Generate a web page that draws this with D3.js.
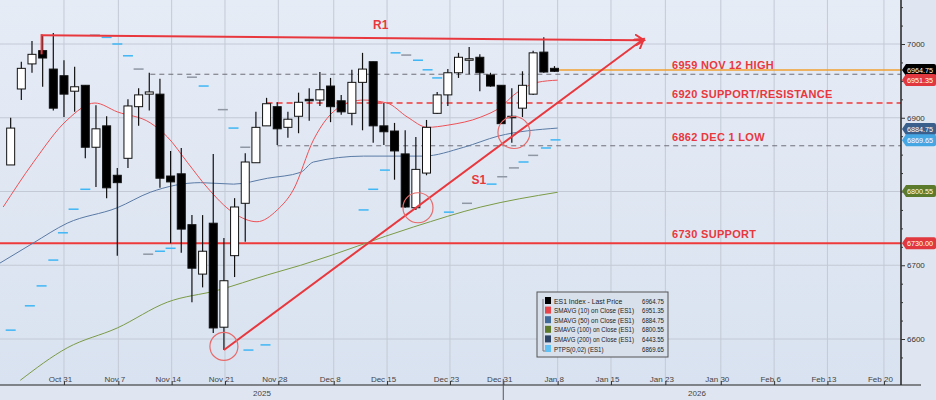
<!DOCTYPE html>
<html><head><meta charset="utf-8">
<script src="https://cdn.jsdelivr.net/npm/d3@7"></script>
<style>body{margin:0;background:#fff;font-family:"Liberation Sans",Arial,sans-serif}</style>
</head><body>
<svg id="chart" width="936" height="400"></svg>
<script>
// candles: [open, high, low, close], one per trading day (index 0..51)
const candles = [
  [6836,6900,6836,6886],[6939,6976,6924,6967],[6973,7004,6961,6986],[6991,7012,6942,6981],
  [6966,7015,6910,6913],[6957,6978,6901,6932],[6936,6969,6908,6942],[6944,6944,6845,6860],
  [6860,6917,6806,6885],[6889,6902,6791,6805],[6822,6832,6713,6812],[6845,6925,6832,6916],
  [6915,6940,6889,6931],[6932,6961,6910,6935],[6932,6953,6805,6818],[6821,6855,6730,6813],
  [6824,6859,6717,6749],[6755,6768,6650,6696],[6688,6768,6670,6719],[6757,6851,6608,6615],
  [6616,6737,6585,6679],[6713,6791,6684,6779],[6784,6852,6732,6840],[6839,6908,6839,6887],
  [6889,6927,6889,6919],[6915,6921,6863,6885],[6887,6908,6873,6898],[6902,6934,6879,6921],
  [6925,6940,6896,6923],[6924,6962,6916,6938],[6943,6954,6894,6915],[6923,6931,6904,6908],
  [6906,6965,6890,6948],[6948,6988,6883,6966],[6976,6976,6866,6889],[6889,6920,6863,6881],
  [6882,6893,6816,6855],[6851,6883,6778,6779],[6778,6874,6775,6830],[6825,6897,6822,6887],
  [6906,6935,6905,6931],[6931,6966,6916,6961],[6961,6988,6954,6982],[6978,6996,6959,6980],
  [6982,6986,6936,6961],[6958,6961,6942,6943],[6944,6944,6892,6892],[6902,6940,6866,6901],
  [6913,6963,6901,6944],[6932,6991,6931,6988],[6989,7009,6961,6962],[6967,6970,6962,6963]
];
// [index, value]
const sma10 = [[-0.7,6779],[2.1,6839],[5.3,6897],[7.9,6920],[10,6908],[13.1,6893],[14.7,6874],[16.6,6839],
  [18.4,6806],[20.9,6771],[23.1,6759],[25,6775],[26.5,6802],[28.4,6870],[30.9,6915],[33.1,6924],[35.3,6920],
  [37.2,6901],[39.1,6887],[41,6890],[44.1,6901],[46,6915],[47.2,6931],[49.4,6948],[51.3,6951]];
const sma50 = [[-1,6703],[2.1,6730],[5.3,6757],[10,6778],[13.1,6799],[17.8,6812],[20.9,6810],[24.1,6818],
  [27.2,6826],[28.4,6840],[33.1,6848],[38.7,6848],[42.5,6860],[45.7,6875],[51.3,6886]];
const sma100 = [[0.9,6544],[5.3,6588],[10,6615],[14.7,6650],[19.4,6666],[24.1,6687],[27.2,6700],
  [37.8,6752],[44.1,6779],[51.3,6799]];
// PTPS dashes [index, value, kind] kind 0 = blue, 1 = grey
const ptps = [[0,6612,0],[1.8,6645,0],[2.9,6672,0],[4,6707,0],[4.9,6744,0],[5.9,6776,0],[7,6803,0],
  [7.9,7012,1],[9,7009,0],[10,7000,0],[11,6984,0],[12,6966,1],[12.9,6715,1],[14,6719,0],[15,6723,0],
  [17,6955,1],[18.1,6943,0],[19.9,6911,1],[20.9,6886,0],[22,6860,1],[22.3,6585,0],[23.9,6592,0],
  [33.1,6775,0],[34,6803,0],[35.1,6829,0],[36.1,6988,0],[37.1,6985,1],[38.2,6978,0],[39.1,6965,0],
  [40,6954,0],[41.1,6772,0],[42.8,6784,1],[45.1,6810,0],[46.1,6820,1],[47.2,6832,1],[48.1,6840,0],
  [49,6849,1],[50.2,6859,0],[51.1,6870,0]];
const tickIdx = [5,10.1,15.1,20.1,25.1,30.3,35.3,41.2,46.2,51.3,56.3,61.4,66.6,71.6,76.6,81.9];
const tickLabels = ["Oct 31","Nov 7","Nov 14","Nov 21","Nov 28","Dec 8","Dec 15","Dec 23","Dec 31","Jan 8","Jan 15","Jan 23","Jan 30","Feb 6","Feb 13","Feb 20"];
const yTicks = [6600,6700,6800,6900,7000];
const yLabels = [6600,6700,6900,7000]; // 6800 hidden behind the tag
const levels = [
  {v:6959, label:"6959 NOV 12 HIGH", from:13.1},
  {v:6920, label:"6920 SUPPORT/RESISTANCE", from:24},
  {v:6862, label:"6862 DEC 1 LOW", from:25},
  {v:6730, label:"6730 SUPPORT", from:-1}
];
const tags = [
  {v:6964.75, text:"6964.75", color:"#000"},
  {v:6951.35, text:"6951.35", color:"#e0383e"},
  {v:6884.75, text:"6884.75", color:"#3a5f8c"},
  {v:6869.65, text:"6869.65", color:"#45a6e4"},
  {v:6800.55, text:"6800.55", color:"#5b7a2c"},
  {v:6730.00, text:"6730.00", color:"#e0383e"}
];
const legendRows = [
  ["ES1 Index - Last Price","6964.75","#000"],
  ["SMAVG (10)  on Close (ES1)","6951.35","#e8454a"],
  ["SMAVG (50)  on Close (ES1)","6884.75","#3f6a99"],
  ["SMAVG (100)  on Close (ES1)","6800.55","#5d7a2a"],
  ["SMAVG (200)  on Close (ES1)","6443.55","#2d4466"],
  ["PTPS(0,02) (ES1)","6869.65","#5fc0f5"]
];

const svg = d3.select("#chart");
const W = 901, H = 385;
const x = d3.scaleLinear().domain([-1, 83.5]).range([0, W]);
const y = d3.scaleLinear().domain([6600, 7000]).range([339, 44]);

const defs = svg.append("defs");
const grad = defs.append("linearGradient").attr("id","bg").attr("x1",0).attr("y1",0).attr("x2",0).attr("y2",1);
grad.append("stop").attr("offset","0%").attr("stop-color","#e6ecf6");
grad.append("stop").attr("offset","100%").attr("stop-color","#d9e2f0");
defs.append("clipPath").attr("id","clip").append("rect").attr("width",W).attr("height",H);
defs.append("marker").attr("id","arrow").attr("viewBox","0 0 10 10").attr("refX",6).attr("refY",5)
  .attr("markerWidth",6).attr("markerHeight",6).attr("orient","auto")
  .append("path").attr("d","M0,0 L8,5 L0,10").attr("fill","none").attr("stroke","#e8383e").attr("stroke-width",1.6);

svg.append("rect").attr("width",936).attr("height",400).attr("fill","#dfe6f1");
svg.append("rect").attr("width",W).attr("height",H).attr("fill","url(#bg)");

const g = svg.append("g").attr("clip-path","url(#clip)");
// grid
g.selectAll(".vg").data(tickIdx).enter().append("line")
  .attr("x1",d=>x(d)).attr("x2",d=>x(d)).attr("y1",0).attr("y2",H)
  .attr("stroke","#c3cad6").attr("stroke-width",1);
g.selectAll(".hg").data(yTicks).enter().append("line")
  .attr("x1",0).attr("x2",W).attr("y1",d=>y(d)).attr("y2",d=>y(d))
  .attr("stroke","#c3cad6").attr("stroke-width",1);

// levels
levels.forEach((l,i) => {
  const solid = i === 3, red = i === 1 || i === 3;
  g.append("line").attr("x1",x(l.from)).attr("x2",W).attr("y1",y(l.v)).attr("y2",y(l.v))
    .attr("stroke", red ? "#ee3a3a" : "#6d6d78")
    .attr("stroke-width", solid ? 2 : (red ? 1.4 : 1))
    .attr("stroke-dasharray", solid ? null : (red ? "6,4" : "5,4"));
  svg.append("text").attr("x",672).attr("y",y(l.v)-5).text(l.label)
    .attr("fill","#e8383e").attr("font-size",11).attr("font-weight","bold").attr("letter-spacing",0.3);
});
// last price line
g.append("line").attr("x1",x(51.3)).attr("x2",W).attr("y1",y(6964.75)).attr("y2",y(6964.75))
  .attr("stroke","#f0a030").attr("stroke-width",1.3);

// moving averages
const line = d3.line().x(d=>x(d[0])).y(d=>y(d[1])).curve(d3.curveMonotoneX);
[[sma100,"#7b9b45"],[sma50,"#5a7aa5"],[sma10,"#ee5055"]].forEach(([d,c]) =>
  g.append("path").datum(d).attr("d",line).attr("fill","none").attr("stroke",c).attr("stroke-width",1));

// PTPS
g.selectAll(".pt").data(ptps).enter().append("line")
  .attr("x1",d=>x(d[0])-5).attr("x2",d=>x(d[0])+5).attr("y1",d=>y(d[1])).attr("y2",d=>y(d[1]))
  .attr("stroke",d=>d[2] ? "#8f96a4" : "#3fb6f5").attr("stroke-width",1.5);

// candles
const bw = 8;
const cg = g.selectAll(".c").data(candles).enter().append("g");
cg.append("line").attr("x1",(d,i)=>x(i)).attr("x2",(d,i)=>x(i))
  .attr("y1",d=>y(d[1])).attr("y2",d=>y(d[2])).attr("stroke","#111").attr("stroke-width",1.2);
cg.append("rect").attr("x",(d,i)=>x(i)-bw/2).attr("width",bw)
  .attr("y",d=>y(Math.max(d[0],d[3])))
  .attr("height",d=>Math.max(1.5, Math.abs(y(d[0])-y(d[3]))))
  .attr("fill",d=>d[3]<d[0] ? "#000" : "#fff").attr("stroke","#111").attr("stroke-width",1);

// annotations
const red = "#e8383e";
g.append("line").attr("x1",x(2.9)).attr("x2",x(2.9)).attr("y1",y(6986)).attr("y2",y(7012)-1)
  .attr("stroke",red).attr("stroke-width",2);
g.append("line").attr("x1",x(2.9)).attr("y1",y(7012)).attr("x2",x(59.2)).attr("y2",y(7005))
  .attr("stroke",red).attr("stroke-width",2).attr("marker-end","url(#arrow)");
g.append("line").attr("x1",x(20)).attr("y1",y(6585)).attr("x2",x(59.2)).attr("y2",y(7005))
  .attr("stroke",red).attr("stroke-width",2).attr("marker-end","url(#arrow)");
[[20,6590,14],[38.2,6778,15],[47.2,6880,16]].forEach(c =>
  g.append("circle").attr("cx",x(c[0])).attr("cy",y(c[1])).attr("r",c[2])
    .attr("fill","none").attr("stroke","#e86a6a").attr("stroke-width",1.2));
svg.append("text").attr("x",x(34.7)).attr("y",y(7020)).text("R1").attr("fill",red)
  .attr("font-size",12).attr("font-weight","bold").attr("text-anchor","middle");
svg.append("text").attr("x",x(43.9)).attr("y",y(6810)).text("S1").attr("fill",red)
  .attr("font-size",12).attr("font-weight","bold").attr("text-anchor","middle");

// right axis
svg.append("line").attr("x1",W).attr("x2",W).attr("y1",0).attr("y2",H).attr("stroke","#222").attr("stroke-width",1.5);
const yAxis = d3.axisRight(y).tickValues(d3.range(6575,7051,25)).tickSize(3).tickFormat(d=>yLabels.includes(d)?d:"");
svg.append("g").attr("transform",`translate(${W},0)`).call(yAxis)
  .call(a=>a.select(".domain").remove())
  .call(a=>a.selectAll(".tick line").attr("stroke","#333").attr("x2",d=>d%100===0?4:2))
  .call(a=>a.selectAll("text").attr("font-size",8).attr("fill","#333").attr("x",6));
tags.forEach(t => {
  const ty = y(t.v);
  const tg = svg.append("g").attr("transform",`translate(${W+1},${ty})`);
  tg.append("path").attr("d","M0,0 L4,-6 L32,-6 Q34,-6 34,-4 L34,4 Q34,6 32,6 L4,6 Z").attr("fill",t.color);
  tg.append("text").attr("x",5).attr("y",3).text(t.text)
    .attr("textLength",26).attr("lengthAdjust","spacingAndGlyphs")
    .attr("fill","#fff").attr("font-size",8);
});

// bottom axis
svg.append("line").attr("x1",0).attr("x2",W+20).attr("y1",H).attr("y2",H).attr("stroke","#222").attr("stroke-width",1.2);
const xAxis = d3.axisBottom(x).tickValues(tickIdx).tickSize(-4).tickFormat((d,i)=>tickLabels[i]);
svg.append("g").attr("transform",`translate(0,${H})`).call(xAxis)
  .call(a=>a.select(".domain").remove())
  .call(a=>a.selectAll(".tick line").attr("stroke","#333"))
  .call(a=>a.selectAll("text").attr("font-size",8).attr("fill","#444").attr("dx",-4).attr("y",-9));
svg.append("line").attr("x1",x(46.2)).attr("x2",x(46.2)).attr("y1",H-6).attr("y2",400).attr("stroke","#555");
svg.append("text").attr("x",262).attr("y",396).text("2025").attr("font-size",8).attr("fill","#444").attr("text-anchor","middle");
svg.append("text").attr("x",697).attr("y",396).text("2026").attr("font-size",8).attr("fill","#444").attr("text-anchor","middle");

// legend
const lg = svg.append("g").attr("transform","translate(537,292)");
lg.append("rect").attr("width",131).attr("height",65).attr("fill","#d8e0ec").attr("stroke","#555");
lg.append("path").attr("d","M6,7 V59 H9").attr("fill","none").attr("stroke","#777");
legendRows.forEach((r,i) => {
  const ry = 5 + i*9.6;
  lg.append("rect").attr("x",8).attr("y",ry).attr("width",6).attr("height",7).attr("fill",r[2]);
  lg.append("text").attr("x",17).attr("y",ry+6.5).text(r[0]).attr("font-size",6.5).attr("fill","#222")
    .attr("textLength", Math.min(80, r[0].length * 3.1)).attr("lengthAdjust","spacingAndGlyphs");
  lg.append("text").attr("x",127).attr("y",ry+6.5).text(r[1]).attr("font-size",6.5).attr("fill","#222")
    .attr("text-anchor","end").attr("textLength",22).attr("lengthAdjust","spacingAndGlyphs");
});
</script>
</body></html>
